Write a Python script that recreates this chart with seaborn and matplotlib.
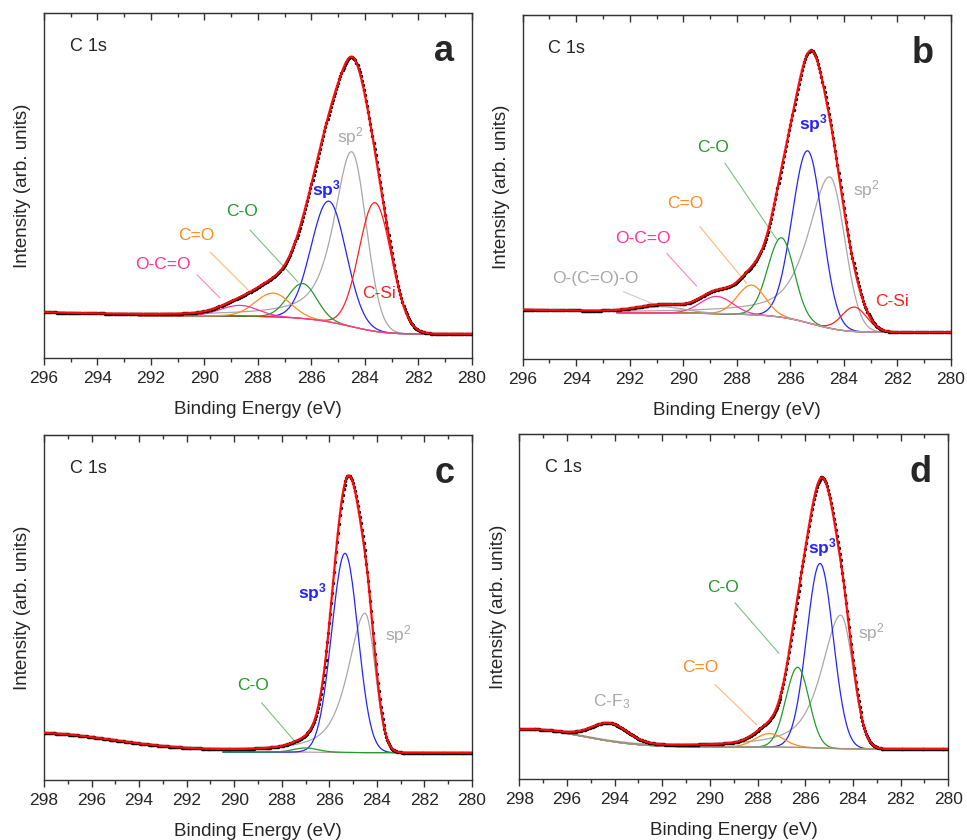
import numpy as np
import matplotlib
matplotlib.use('Agg')
import matplotlib.pyplot as plt
from matplotlib.ticker import MultipleLocator
import seaborn as sns

# ---- fitted components (intensity in % of axis height) ----
# names starting with '_' are part of the envelope but not drawn
A_NAMES = ['sp2', 'sp3', 'C-Si', 'C-O', 'C=O', 'O-C=O', '_loss']
A_CENTER = [284.5, 285.35, 283.63, 286.33, 287.43, 288.67, 299.0]
A_HEIGHT = [50.7, 35.0, 37.3, 10.1, 6.9, 3.1, 1.2]
A_HW_LOW = [0.64, 0.76, 0.72, 0.62, 0.75, 0.8, 4.0]
A_HW_HIGH = [0.78, 0.78, 0.70, 0.65, 0.78, 0.85, 4.0]
A_TAIL = [0.7, 0.0, 0.0, 0.0, 0.0, 0.0, 0.0]
A_BG = [7.0, 12.3]

B_NAMES = ['sp2', 'sp3', 'C-Si', 'C-O', 'C=O', 'O-C=O', 'O-(C=O)-O', '_loss']
B_CENTER = [284.52, 285.35, 283.61, 286.33, 287.45, 288.75, 290.8, 299.0]
B_HEIGHT = [44.0, 50.0, 7.1, 23.1, 8.6, 5.0, 1.8, 1.0]
B_HW_LOW = [0.65, 0.64, 0.55, 0.56, 0.6, 0.7, 1.0, 4.0]
B_HW_HIGH = [0.96, 0.68, 0.55, 0.6, 0.62, 0.72, 1.0, 4.0]
B_TAIL = [0.65, 0.0, 0.0, 0.0, 0.0, 0.0, 0.0, 0.0]
B_BG = [7.8, 13.5]

C_NAMES = ['sp2', 'sp3', 'C-O', '_loss']
C_CENTER = [284.5, 285.34, 287.0, 298.5]
C_HEIGHT = [40.4, 57.7, 1.2, 5.5]
C_HW_LOW = [0.5, 0.64, 0.6, 4.0]
C_HW_HIGH = [0.85, 0.66, 0.6, 4.0]
C_TAIL = [0.7, 0.0, 0.0, 0.0]
C_BG = [7.9, 8.1]

D_NAMES = ['sp2', 'sp3', 'C-O', 'C=O', 'C-F3', '_cf3']
D_CENTER = [284.51, 285.38, 286.32, 287.51, 297.6, 294.2]
D_HEIGHT = [38.7, 53.5, 23.2, 3.9, 5.0, 5.0]
D_HW_LOW = [0.6, 0.65, 0.56, 0.7, 2.7, 0.88]
D_HW_HIGH = [0.95, 0.66, 0.58, 0.7, 2.7, 0.88]
D_TAIL = [0.7, 0.0, 0.0, 0.0, 0.0, 0.0]
D_BG = [8.7, 9.3]

COLORS = {'sp2': '#a8a8a8', 'sp3': '#2424ff', 'C-Si': '#ff2020', 'C-O': '#239a2b',
          'C=O': '#ff8a1e', 'O-C=O': '#ff3399', 'O-(C=O)-O': '#a8a8a8', 'C-F3': '#a8a8a8'}


def profile(e, c, h, hw_lo, hw_hi, tail):
    hi = e >= c
    hw = np.where(hi, hw_hi, hw_lo)
    t = np.where(hi, tail, 0.0)
    u = ((e - c) / hw) ** 2
    return h * ((1 - t) * np.exp(-np.log(2) * u) + t / (1 + u))


def draw_panel(ax, e_max, fit_max, names, centers, heights, hw_lo, hw_hi, tails, bg,
               labels, leaders, letter, bg_color='#b890a0', bg_with=(), bg_on_top=False):
    e = np.arange(280.0, e_max + 0.001, 0.04)
    comps = [profile(e, c, h, a, b, t) for c, h, a, b, t in
             zip(centers, heights, hw_lo, hw_hi, tails)]
    main = sum(p for p, c in zip(comps, centers) if c < 292)
    cum = np.concatenate([[0], np.cumsum((main[1:] + main[:-1]) / 2)])
    base = bg[0] + (bg[1] - bg[0]) * cum / cum[-1]
    env = base + sum(comps)
    # broad features that the fit folds into the background
    base = base + sum((p for n, p in zip(names, comps) if n in bg_with), np.zeros_like(e))

    fit = e <= fit_max
    sns.lineplot(x=e[fit], y=base[fit], ax=ax, color=bg_color, lw=0.8, sort=False,
                 errorbar=None, zorder=2.5 if bg_on_top else 1.5)
    for name, p in zip(names, comps):
        if name.startswith('_'):
            continue
        y = base if name in bg_with else base + p
        sns.lineplot(x=e[fit], y=y[fit], ax=ax, color=COLORS[name], lw=0.9,
                     sort=False, errorbar=None)
    sns.scatterplot(x=e, y=env, ax=ax, color='black', s=6, linewidth=0, zorder=3)
    sns.lineplot(x=e, y=env, ax=ax, color='#ff0a0a', lw=1.6, sort=False,
                 errorbar=None, zorder=4)

    for text, x, y, col, bold in labels:
        ax.text(x, y, text, color=col, fontsize=12.5, ha='center', va='center',
                fontweight='bold' if bold else 'normal')
    for x0, y0, x1, y1, col in leaders:
        ax.plot([x0, x1], [y0, y1], color=col, lw=0.8, alpha=0.6)

    ax.text(0.06, 0.89, 'C 1s', transform=ax.transAxes, fontsize=13, ha='left',
            va='baseline')
    ax.text(0.935, 0.86, letter, transform=ax.transAxes, fontsize=26,
            fontweight='bold', ha='center', va='baseline')

    ax.set_xlim(e_max, 280)
    ax.set_ylim(0, 100)
    ax.set_yticks([])
    ax.xaxis.set_major_locator(MultipleLocator(2))
    ax.xaxis.set_minor_locator(MultipleLocator(1))
    ax.tick_params(axis='x', which='major', direction='out', length=5, width=1,
                   labelsize=12.5, pad=4, color='#333333')
    ax.tick_params(axis='x', which='minor', direction='out', length=3, width=1,
                   color='#333333')
    top = ax.secondary_xaxis('top')
    top.xaxis.set_major_locator(MultipleLocator(2))
    top.xaxis.set_minor_locator(MultipleLocator(1))
    top.tick_params(which='major', direction='in', length=5, width=1, labeltop=False,
                    color='#333333')
    top.tick_params(which='minor', direction='in', length=3, width=1, color='#333333')
    top.spines['top'].set_color('#333333')
    for s in ax.spines.values():
        s.set_visible(True)
        s.set_color('#333333')
        s.set_linewidth(1.0)
    ax.set_xlabel('Binding Energy (eV)', fontsize=13.5, labelpad=11)
    ax.set_ylabel('Intensity (arb. units)', fontsize=13.5, labelpad=9)


sns.set_style('ticks')
plt.rcParams['font.family'] = ['Liberation Sans', 'DejaVu Sans']
plt.rcParams['mathtext.fontset'] = 'custom'
plt.rcParams['mathtext.rm'] = 'Liberation Sans'
plt.rcParams['mathtext.it'] = 'Liberation Sans'
plt.rcParams['mathtext.bf'] = 'Liberation Sans:bold'

fig = plt.figure(figsize=(9.67, 8.4), dpi=100)
ax_a = fig.add_axes([0.0455, 0.5738, 0.4426, 0.4107])
ax_b = fig.add_axes([0.5405, 0.5726, 0.4429, 0.4095])
ax_c = fig.add_axes([0.0455, 0.0714, 0.4426, 0.4107])
ax_d = fig.add_axes([0.5370, 0.0726, 0.4436, 0.4107])

G, BL, R, GR, O, P = (COLORS['sp2'], COLORS['sp3'], COLORS['C-Si'], COLORS['C-O'],
                      COLORS['C=O'], COLORS['O-C=O'])

draw_panel(ax_a, 296, 292.5, A_NAMES, A_CENTER, A_HEIGHT, A_HW_LOW, A_HW_HIGH, A_TAIL, A_BG,
           [('sp$^2$', 284.56, 64.1, G, False), (r'$\mathbf{sp^3}$', 285.46, 48.7, BL, True),
            ('C-O', 288.6, 42.6, GR, False), ('C=O', 290.32, 35.4, O, False),
            ('O-C=O', 291.55, 27.2, P, False), ('C-Si', 283.48, 18.8, R, False)],
           [(288.3, 37.1, 286.5, 22.0, GR), (289.79, 30.7, 288.37, 19.7, O),
            (290.28, 24.1, 289.42, 17.4, P)], 'a')

draw_panel(ax_b, 296, 292.5, B_NAMES, B_CENTER, B_HEIGHT, B_HW_LOW, B_HW_HIGH, B_TAIL, B_BG,
           [(r'$\mathbf{sp^3}$', 285.14, 68.5, BL, True), ('sp$^2$', 283.15, 49.4, G, False),
            ('C-O', 288.88, 61.5, GR, False), ('C=O', 289.94, 45.1, O, False),
            ('O-C=O', 291.5, 34.9, P, False), ('O-(C=O)-O', 293.27, 23.3, G, False),
            ('C-Si', 282.19, 16.7, R, False)],
           [(288.44, 56.9, 286.51, 34.8, GR), (289.38, 38.5, 287.63, 22.0, O),
            (290.62, 30.7, 289.5, 21.2, P), (292.24, 19.6, 291.12, 16.0, G)], 'b')

draw_panel(ax_c, 298, 290.5, C_NAMES, C_CENTER, C_HEIGHT, C_HW_LOW, C_HW_HIGH, C_TAIL, C_BG,
           [(r'$\mathbf{sp^3}$', 286.72, 54.4, BL, True), ('sp$^2$', 283.1, 42.3, G, False),
            ('C-O', 289.2, 27.3, GR, False)],
           [(288.85, 22.4, 287.44, 11.1, GR)], 'c')

draw_panel(ax_d, 298, 298, D_NAMES, D_CENTER, D_HEIGHT, D_HW_LOW, D_HW_HIGH, D_TAIL, D_BG,
           [(r'$\mathbf{sp^3}$', 285.29, 67.2, BL, True), ('sp$^2$', 283.21, 42.5, G, False),
            ('C-O', 289.44, 55.6, GR, False), ('C=O', 290.39, 32.3, O, False),
            ('C-F$_3$', 294.12, 22.4, G, False)],
           [(288.95, 51.1, 287.1, 36.4, GR), (289.79, 27.4, 288.04, 15.7, O)], 'd',
           bg_color='#a09070', bg_with=('C-F3',), bg_on_top=True)

fig.savefig('out.png', dpi=100)
